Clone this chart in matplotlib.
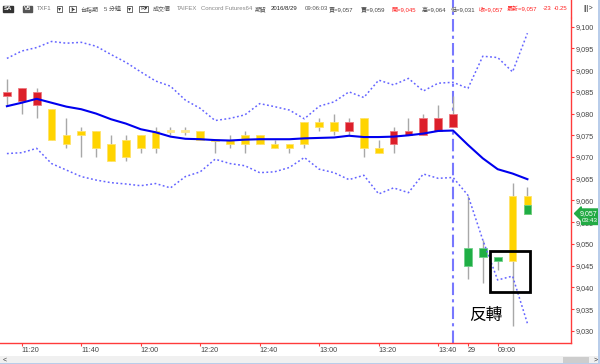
import matplotlib
matplotlib.use('Agg')
import matplotlib.pyplot as plt
from matplotlib.patches import Rectangle
import numpy as np

plt.rcParams['font.family'] = ['Liberation Sans', 'Noto Sans CJK TC', 'DejaVu Sans']

# K棒資料 (5分鐘)
body_top = [9085, 9086, 9085, 9081, 9075, 9076, 9076, 9073, 9074, 9075,
            9076, 9076, 9076, 9076, 9074, 9074, 9075, 9075, 9073, 9073,
            9078, 9078, 9078, 9078, 9079, 9072, 9076, 9076, 9079, 9079,
            9080, 9049, 9049, 9047, 9061, 9061]
body_bot = [9084, 9083, 9082, 9074, 9073, 9075, 9072, 9069, 9070, 9072,
            9072, 9076, 9076, 9074, 9074, 9073, 9073, 9073, 9072, 9072,
            9073, 9077, 9076, 9076, 9072, 9071, 9073, 9075, 9075, 9076,
            9077, 9045, 9047, 9046, 9046, 9057]
high = [9088, 9086, 9086, 9081, 9079, 9077, 9076, 9075, 9075, 9075,
        9077, 9077, 9077, 9076, 9074, 9075, 9076, 9075, 9074, 9073,
        9078, 9079, 9080, 9079, 9079, 9074, 9077, 9079, 9080, 9082,
        9084, 9061, 9051, 9047, 9064, 9063]
low = [9082, 9080, 9079, 9074, 9072, 9070, 9070, 9069, 9069, 9071,
       9071, 9075, 9075, 9074, 9071, 9072, 9071, 9073, 9072, 9071,
       9072, 9076, 9075, 9075, 9070, 9071, 9071, 9075, 9075, 9076,
       9077, 9042, 9041, 9044, 9031, 9057]
kind = ['r', 'r', 'r', 'y', 'y', 'y', 'y', 'y', 'y', 'y',
        'y', 'p', 'p', 'y', 'y', 'y', 'y', 'y', 'y', 'y',
        'y', 'y', 'y', 'r', 'y', 'y', 'r', 'r', 'r', 'r',
        'r', 'g', 'g', 'g', 'y', 'y']
last_split = 9059  # 最後一根: 上半黃 下半綠

# 均線與布林通道
ma = [9081.7, 9082.5, 9083.4, 9082.5, 9081.6, 9081.0, 9080.0, 9078.7, 9077.7, 9076.4,
      9075.7, 9074.7, 9074.2, 9074.1, 9073.9, 9073.8, 9074.0, 9074.1, 9074.1, 9074.1,
      9074.3, 9074.4, 9074.5, 9074.9, 9074.6, 9074.6, 9074.7, 9075.0, 9075.4, 9076.0,
      9076.1, 9072.8, 9069.7, 9067.2, 9066.2, 9064.9]
upper = [9092.7, 9094.4, 9095.2, 9096.6, 9096.2, 9096.4, 9095.5, 9093.6, 9091.8, 9089.6,
         9087.5, 9086.3, 9083.1, 9081.2, 9078.4, 9078.9, 9079.7, 9082.3, 9081.6, 9080.8,
         9078.8, 9081.7, 9082.7, 9085.0, 9083.7, 9087.7, 9086.6, 9088.1, 9085.2, 9087.0,
         9087.2, 9085.8, 9093.2, 9092.9, 9089.6, 9098.5]
lower = [9070.8, 9071.0, 9072.0, 9068.5, 9067.0, 9065.5, 9064.7, 9064.1, 9063.8, 9063.4,
         9063.9, 9062.9, 9065.5, 9066.6, 9069.5, 9068.5, 9068.0, 9066.4, 9066.6, 9067.6,
         9069.9, 9067.2, 9066.4, 9064.8, 9065.8, 9061.5, 9062.9, 9061.8, 9066.1, 9065.1,
         9065.3, 9061.2, 9050.9, 9041.7, 9042.6, 9031.7]

tick_idx = [1, 5, 9, 13, 17, 21, 25, 29, 31, 33]
tick_lab = ['11:20', '11:40', '12:00', '12:20', '12:40', '13:00', '13:20', '13:40', '29', '09:00']
day_break = 30
last_price = '9,057'
countdown = '03:43'

colores = {'r': '#dc1f2a', 'y': '#ffd400', 'g': '#1fae45', 'p': '#ffe98c'}
borde = {'r': '#ee7a80', 'y': '#ffe36a', 'g': '#6fcf8a', 'p': '#ffe98c'}

fig = plt.figure(figsize=(6, 3.64), dpi=100)
fig.patch.set_facecolor('white')
ax = fig.add_axes([0, 21 / 364, 571 / 600, 325 / 364])
ax.set_facecolor('white')

x = np.arange(len(body_top))
ax.vlines(x, low, high, color='#a8a8a8', lw=1, zorder=2)
for i in x:
    h = body_top[i] - body_bot[i]
    b = body_bot[i]
    if h == 0:
        h = 0.45
        b = body_bot[i] - 0.2
    ax.bar(i, h, bottom=b, width=0.52, color=colores[kind[i]],
           edgecolor=borde[kind[i]], lw=0.6, zorder=3)
ax.bar(x[-1], last_split - body_bot[-1], bottom=body_bot[-1], width=0.52,
       color=colores['g'], edgecolor=borde['g'], lw=0.6, zorder=3)

ax.plot(x, ma, color='#0000ee', lw=1.5, zorder=4)
ax.plot(x, upper, color='#6464ff', lw=1.1, ls=(0, (1.2, 1.6)), zorder=4)
ax.plot(x, lower, color='#6464ff', lw=1.1, ls=(0, (1.2, 1.6)), zorder=4)

ax.axvline(day_break, ymin=0, ymax=1.06, color='#7878ff', lw=1.5,
           ls=(0, (6, 2, 1.5, 2)), clip_on=False, zorder=1)

# 反轉框
ax.add_patch(Rectangle((32.49, 9039.0), 2.69, 9.4, fill=False, ec='black', lw=2, zorder=5))
ax.text(32.2, 9033.6, '反轉', fontsize=12, ha='center', va='center', color='black',
        family=['Noto Sans CJK TC'])

ax.set_xlim(-0.464, 37.93)
ax.set_ylim(9027.2, 9102.0)

for s in ['left', 'top']:
    ax.spines[s].set_visible(False)
for s in ['right', 'bottom']:
    ax.spines[s].set_color('#ff3b3b')
    ax.spines[s].set_linewidth(1)

ax.yaxis.tick_right()
ax.set_yticks(np.arange(9030, 9101, 5))
ax.set_yticklabels([f'{v:,}' for v in range(9030, 9101, 5)])
ax.tick_params(axis='y', colors='#ff3b3b', labelcolor='#444444', labelsize=5.2,
               length=2.5, width=0.8, pad=1)
ax.set_xticks(tick_idx)
ax.set_xticklabels(tick_lab)
ax.tick_params(axis='x', colors='#ff3b3b', labelcolor='#444444', labelsize=5.2,
               length=2, width=0.8, pad=1)
for lab in ax.get_xticklabels():
    lab.set_horizontalalignment('left')

# 最新價標籤
ax.annotate(last_price, xy=(1.0, 9057), xycoords=('axes fraction', 'data'),
            xytext=(6, 0), textcoords='offset points', fontsize=5, color='white',
            va='center', ha='left', zorder=6,
            bbox=dict(boxstyle='larrow,pad=0.15', fc='#22aa44', ec='#22aa44'))
ax.annotate(countdown, xy=(1.0, 9055.3), xycoords=('axes fraction', 'data'),
            xytext=(7.5, 0), textcoords='offset points', fontsize=4.6, color='white',
            va='center', ha='left', zorder=6,
            bbox=dict(boxstyle='square,pad=0.1', fc='#22aa44', ec='#22aa44'))

# 上方工具列
def px(v):
    return v / 600

yt = 1 - 9 / 364
fig.text(px(4), yt, 'SA', fontsize=4.3, color='white', va='center', fontweight='bold',
         bbox=dict(boxstyle='square,pad=0.15', fc='#333333', ec='#333333'))
fig.text(px(24), yt, 'V5', fontsize=4.3, color='white', va='center', fontweight='bold',
         bbox=dict(boxstyle='square,pad=0.15', fc='#555555', ec='#555555'))
botones = [(58, '▾'), (70, '|▸'), (128, '▾'), (140, 'R▾')]
for xp, t in botones:
    fig.text(px(xp), yt, t, fontsize=4.3, color='#333333', va='center', ha='left',
             family=['DejaVu Sans'],
             bbox=dict(boxstyle='square,pad=0.12', fc='white', ec='#555555', lw=0.6))
toolbar = [(37, 'TXF1', '#777777'), (80, '台指期', '#555555'), (104, '5 分鐘', '#555555'),
           (153, '成交價', '#555555'), (177, 'TAIFEX', '#888888'),
           (201, 'Concord Futures64', '#888888'), (255, '期貨', '#555555'),
           (271, '2016/8/29', '#222222'), (305, '09:06:03', '#555555'),
           (329, '買=9,057', '#444444'), (361, '賣=9,059', '#444444'),
           (391, '開=9,045', '#ff2020'), (422, '高=9,064', '#444444'),
           (451, '低=9,031', '#444444'), (479, '收=9,057', '#ff2020'),
           (507, '最新=9,057', '#ff2020'), (543, '-23', '#ff2020'), (554, '-0.25', '#ff2020')]
for xp, t, c in toolbar:
    fig.text(px(xp), yt, t, fontsize=4.3, color=c, va='center', ha='left')
fig.add_artist(plt.Line2D([px(571), px(571)], [1 - 17 / 364, 1], color='#ff3b3b', lw=1))
fig.text(px(583), yt, '|||>', fontsize=5, color='#333333', va='center')

# 下方捲軸
fig.add_artist(Rectangle((0, 0), 1, 8 / 364, transform=fig.transFigure, fc='#f0f0f0', ec='none'))
fig.add_artist(Rectangle((px(563), 1 / 364), px(26), 6 / 364, transform=fig.transFigure,
                         fc='#cdcdcd', ec='none'))
fig.text(px(3), 4 / 364, '<', fontsize=5, va='center', color='#333333')
fig.text(px(594), 4 / 364, '>', fontsize=5, va='center', color='#333333')
fig.add_artist(Rectangle((0, 0), 1, 1.5 / 364, transform=fig.transFigure, fc='#b9cdea', ec='none'))
fig.add_artist(Rectangle((px(598), 0), px(2), 1, transform=fig.transFigure, fc='#b9cdea', ec='none'))

fig.savefig('out.png', dpi=100)
